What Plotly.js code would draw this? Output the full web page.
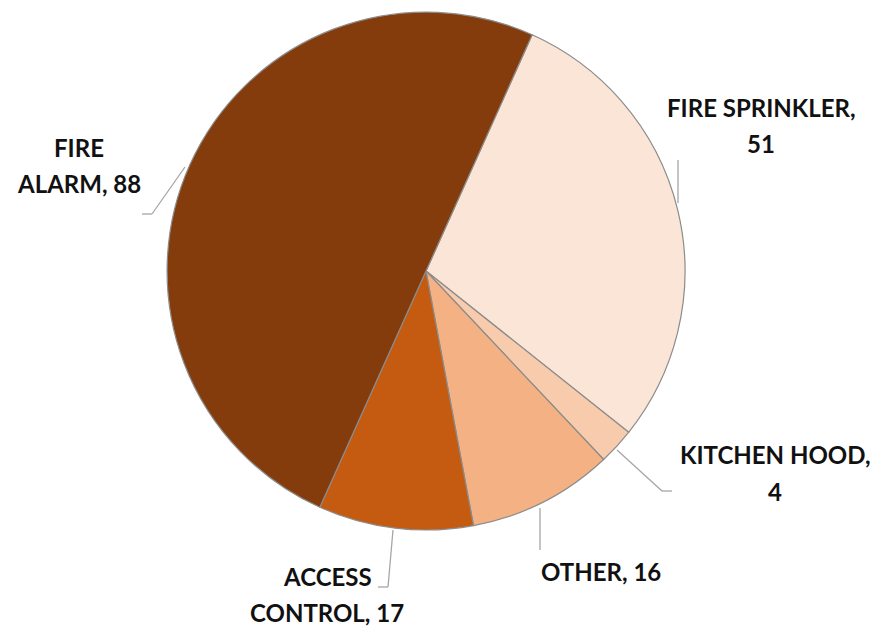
<!DOCTYPE html>
<html>
<head>
<meta charset="utf-8">
<script src="https://cdn.plot.ly/plotly-3.0.1.min.js"></script>
<style>html,body{margin:0;padding:0;background:#fff;}#chart{width:874px;height:626px;}</style>
</head>
<body>
<div id="chart"></div>
<script>
// Data (clockwise from the start angle)
const categories = ["FIRE SPRINKLER", "KITCHEN HOOD", "OTHER", "ACCESS CONTROL", "FIRE ALARM"];
const values = [51, 4, 16, 17, 88];
const colors = ["#FBE5D6", "#F8CBAD", "#F4B183", "#C55A11", "#843C0C"];
// How each data label wraps: [first-line text, second-line text]
const labelLines = [
  ["FIRE SPRINKLER,", "51"],
  ["KITCHEN HOOD,", "4"],
  ["OTHER, 16", null],
  ["ACCESS", "CONTROL, 17"],
  ["FIRE", "ALARM, 88"]
];

const W = 874, H = 626;
const px = x => x / W;
const py = y => 1 - y / H;

// label layout (pixel positions of first line center)
const labelPos = [
  [761, 107], [775, 455], [601, 571], [327, 576], [79, 147]
];
const lineGap = 36;
// leader lines (pixel polylines)
const leaders = [
  [[678, 160], [678, 203]],
  [[617, 450], [662, 491], [672, 491]],
  [[540, 508], [540, 550]],
  [[393, 530], [388, 587], [378, 587]],
  [[185, 167], [152, 214], [142, 214]]
];

const labelFont = {family: 'Lato, "Open Sans", sans-serif', size: 24, color: '#111', weight: 700};
const annotations = [];
labelLines.forEach((ln, i) => {
  const [cx, cy] = labelPos[i];
  annotations.push({x: px(cx), y: py(cy), xref: 'paper', yref: 'paper', text: ln[0],
    showarrow: false, xanchor: 'center', yanchor: 'middle', font: labelFont});
  if (ln[1]) annotations.push({x: px(cx), y: py(cy + lineGap), xref: 'paper', yref: 'paper', text: ln[1],
    showarrow: false, xanchor: 'center', yanchor: 'middle', font: labelFont});
});

const shapes = [];
leaders.forEach(pts => {
  for (let k = 0; k < pts.length - 1; k++) {
    shapes.push({type: 'line', xref: 'paper', yref: 'paper',
      x0: px(pts[k][0]), y0: py(pts[k][1]), x1: px(pts[k+1][0]), y1: py(pts[k+1][1]),
      line: {color: '#a6a6a6', width: 1.3}});
  }
});

const cxp = 426, cyp = 271, R = 259;
const trace = {
  type: 'pie',
  labels: categories,
  values: values,
  sort: false,
  direction: 'clockwise',
  rotation: 24.2,
  textinfo: 'none',
  hoverinfo: 'label+value',
  marker: {colors: colors, line: {color: '#8c8c8c', width: 1.2}},
  domain: {x: [(cxp - R) / W, (cxp + R) / W], y: [(H - cyp - R) / H, (H - cyp + R) / H]},
  showlegend: false
};

Plotly.newPlot('chart', [trace], {
  width: W, height: H,
  margin: {l: 0, r: 0, t: 0, b: 0},
  paper_bgcolor: '#fff',
  showlegend: false,
  annotations: annotations,
  shapes: shapes
}, {displayModeBar: false, staticPlot: true});
</script>
</body>
</html>
